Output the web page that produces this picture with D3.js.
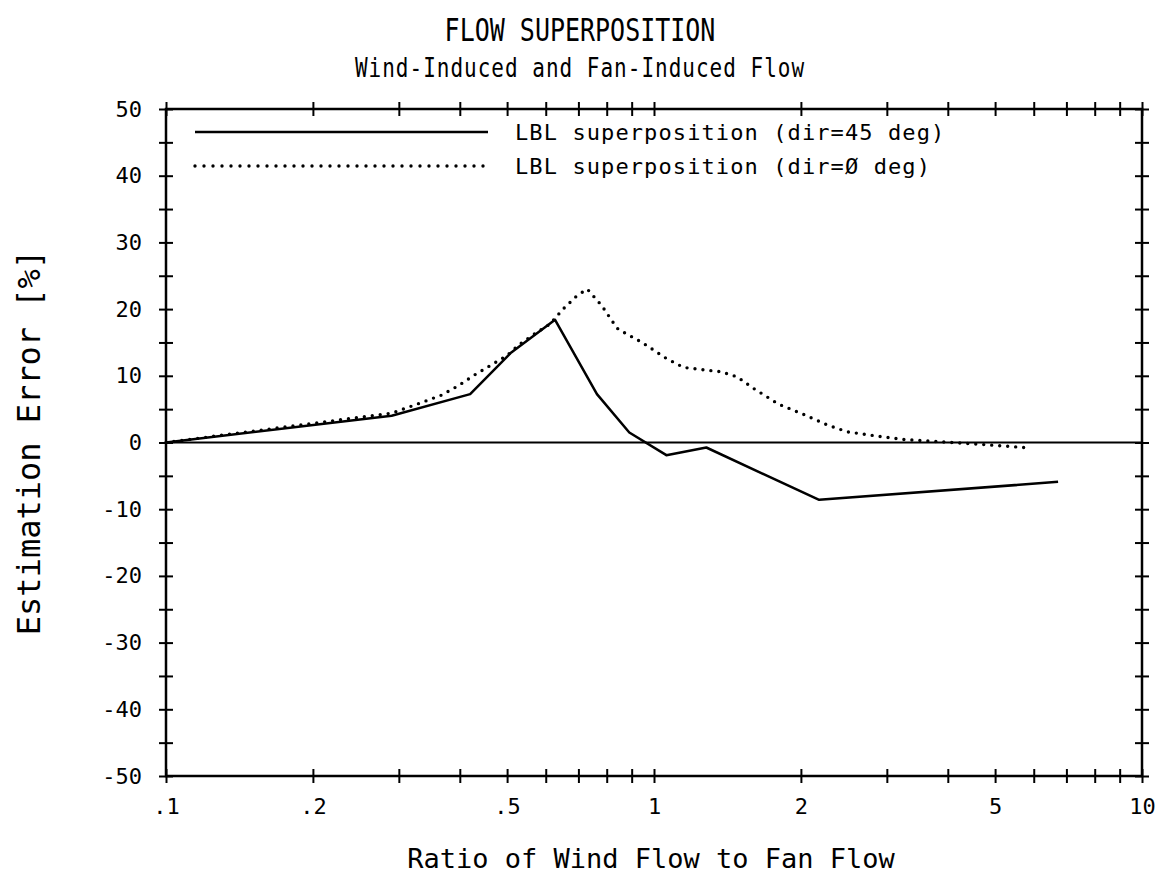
<!DOCTYPE html>
<html>
<head>
<meta charset="utf-8">
<style>
  body { margin: 0; background: #fff; }
  text { font-family: "DejaVu Sans Mono", monospace; fill: #000; }
</style>
</head>
<body>
<svg width="1164" height="879"></svg>
<script src="https://d3js.org/d3.v7.min.js"></script>
<script>

// LBL superposition, dir=45 deg (solid)
var solidRatio = [0.1, 0.29, 0.42, 0.51, 0.627, 0.764, 0.89, 1.06, 1.28, 2.18, 6.73];
var solidError = [0, 4.0, 7.25, 13.5, 18.4, 7.25, 1.5, -1.9, -0.75, -8.6, -5.9];

// LBL superposition, dir=0 deg (dotted)
var dottedRatio = [0.1, 0.29, 0.327, 0.367, 0.397, 0.426, 0.461, 0.499, 0.531, 0.575, 0.612, 0.651, 0.695, 0.73,
                   0.782, 0.82, 0.844, 0.88, 0.945, 1.06, 1.15, 1.37, 1.48, 1.6, 1.8, 2.02, 2.27, 2.49, 2.84,
                   3.24, 3.89, 4.61, 5.26, 5.73];
var dottedError = [0, 4.4, 5.75, 7.1, 8.5, 10, 11.5, 13, 14.75, 16.5, 17.75, 20, 22, 23,
                   20.5, 18.25, 17, 16.25, 15, 12.6, 11.25, 10.6, 9.85, 8.1, 5.75, 4.25, 2.6, 1.6, 1.0,
                   0.45, 0.1, -0.25, -0.55, -0.75];

var seriesNames = ["LBL superposition (dir=45 deg)", "LBL superposition (dir=\u00d8 deg)"];

var xMinorTicks = [0.1, 0.2, 0.3, 0.4, 0.5, 0.6, 0.7, 0.8, 0.9, 1, 2, 3, 4, 5, 6, 7, 8, 9, 10];
var xTickValues = [0.1, 0.2, 0.5, 1, 2, 5, 10];
var xTickLabels = [".1", ".2", ".5", "1", "2", "5", "10"];
var yMinorTicks = d3.range(-50, 51, 5);
var yTickValues = [50, 40, 30, 20, 10, 0, -10, -20, -30, -40, -50];

var svg = d3.select("svg"),
    margin = {top: 109, right: 22, bottom: 103, left: 166},
    width = +svg.attr("width") - margin.left - margin.right,
    height = +svg.attr("height") - margin.top - margin.bottom,
    g = svg.append("g").attr("transform", "translate(" + margin.left + "," + margin.top + ")");

var x = d3.scaleLog().domain([0.1, 10]).range([0, width]);
var y = d3.scaleLinear().domain([-50, 50]).range([height, 0]);

var line = d3.line()
    .x(function(d) { return x(d[0]); })
    .y(function(d) { return y(d[1]); });

function xLabel(d) {
  var i = xTickValues.indexOf(d);
  return i < 0 ? "" : xTickLabels[i];
}
function yLabel(d) {
  return yTickValues.indexOf(d) < 0 ? "" : String(d);
}

// titles (plotter lettering is taller than the font, so stretch a bit)
svg.append("text")
    .attr("transform", "translate(580,41) scale(1,1.25)")
    .attr("text-anchor", "middle")
    .style("font-size", "25px")
    .text("FLOW SUPERPOSITION");

svg.append("text")
    .attr("transform", "translate(580,77) scale(1,1.25)")
    .attr("text-anchor", "middle")
    .style("font-size", "21px")
    .style("letter-spacing", "1px")
    .text("Wind-Induced and Fan-Induced Flow");

// axes, ticks cross the frame
function crossTicks(sel, horiz) {
  sel.select(".domain").remove();
  sel.selectAll(".tick line")
      .attr("stroke", "#000").attr("stroke-width", 2)
      .attr(horiz ? "y1" : "x1", -7).attr(horiz ? "y2" : "x2", 7);
}

var xb = g.append("g")
    .attr("transform", "translate(0," + height + ")")
    .call(d3.axisBottom(x).tickValues(xMinorTicks).tickFormat(xLabel).tickSizeOuter(0).tickPadding(16));
crossTicks(xb, true);
xb.selectAll("text").style("font-size", "22px").attr("dy", "0.71em");

var xt = g.append("g")
    .call(d3.axisTop(x).tickValues(xMinorTicks).tickFormat("").tickSizeOuter(0));
crossTicks(xt, true);

var yl = g.append("g")
    .call(d3.axisLeft(y).tickValues(yMinorTicks).tickFormat(yLabel).tickSizeOuter(0).tickPadding(18));
crossTicks(yl, false);
yl.selectAll("text").style("font-size", "22px");

var yr = g.append("g")
    .attr("transform", "translate(" + width + ",0)")
    .call(d3.axisRight(y).tickValues(yMinorTicks).tickFormat("").tickSizeOuter(0));
crossTicks(yr, false);

// frame
g.append("rect")
    .attr("width", width).attr("height", height)
    .attr("fill", "none").attr("stroke", "#000").attr("stroke-width", 2.5);

// zero line
g.append("line")
    .attr("x1", x(0.1)).attr("x2", x(10))
    .attr("y1", y(0)).attr("y2", y(0))
    .attr("stroke", "#000").attr("stroke-width", 2);

// data
g.append("path")
    .datum(d3.zip(solidRatio, solidError))
    .attr("fill", "none").attr("stroke", "#000").attr("stroke-width", 2.5)
    .attr("stroke-linejoin", "round")
    .attr("d", line);

g.append("path")
    .datum(d3.zip(dottedRatio, dottedError))
    .attr("fill", "none").attr("stroke", "#000").attr("stroke-width", 3.4)
    .attr("stroke-linecap", "round").attr("stroke-dasharray", "0,8")
    .attr("d", line);

// legend
var legend = g.append("g").attr("transform", "translate(29,0)");
seriesNames.forEach(function(name, i) {
  var ly = 23 + i * 34;
  legend.append("line")
      .attr("x1", 0).attr("x2", 293).attr("y1", ly).attr("y2", ly)
      .attr("stroke", "#000")
      .attr("stroke-width", i ? 3.4 : 2.5)
      .attr("stroke-linecap", i ? "round" : "butt")
      .attr("stroke-dasharray", i ? "0,9" : null);
  legend.append("text")
      .attr("x", 320).attr("y", ly).attr("dy", "0.35em")
      .style("font-size", "22px")
      .style("letter-spacing", "1.1px")
      .text(name);
});

// axis titles
svg.append("text")
    .attr("x", 651).attr("y", 868)
    .attr("text-anchor", "middle")
    .style("font-size", "27px")
    .text("Ratio of Wind Flow to Fan Flow");

svg.append("text")
    .attr("transform", "translate(40," + (margin.top + height / 2) + ") rotate(-90)")
    .attr("text-anchor", "middle")
    .style("font-size", "32px")
    .text("Estimation Error [%]");

</script>
</body>
</html>
